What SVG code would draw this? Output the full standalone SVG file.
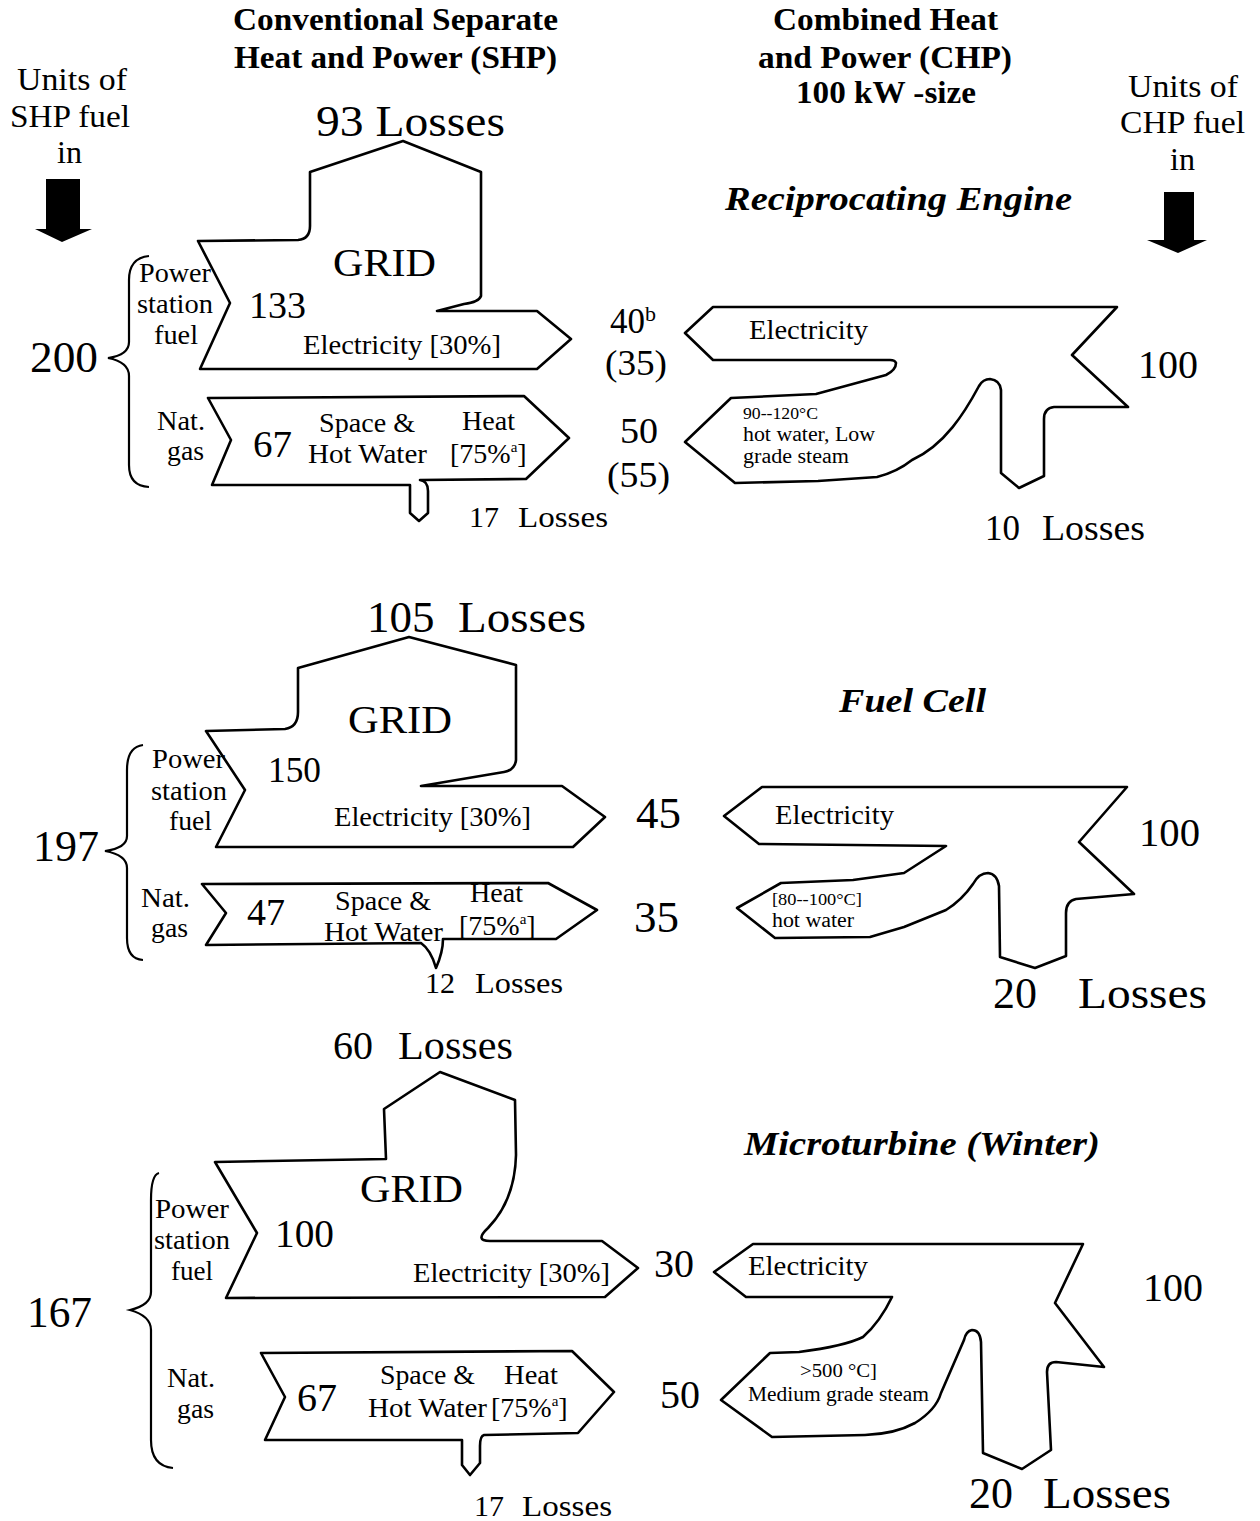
<svg xmlns="http://www.w3.org/2000/svg" width="1260" height="1521" viewBox="0 0 1260 1521">
<style>
.s{fill:#fff;stroke:#000;stroke-width:2.6;stroke-linejoin:round}
.br{fill:none;stroke:#000;stroke-width:2.2}
.ar{fill:#000;stroke:none}
text{font-family:"Liberation Serif","Times New Roman",serif;fill:#000}
.t{font-weight:bold;font-size:31px}
.bi{font-weight:bold;font-style:italic;font-size:34px}
.u{font-size:32px}
.m{font-size:28px}
.sm{font-size:20px}
</style>
<rect width="1260" height="1521" fill="#fff"/>

<g id="headers">
<text class="t" x="233" y="30" textLength="325" lengthAdjust="spacingAndGlyphs">Conventional Separate</text>
<text class="t" x="234" y="68" textLength="323" lengthAdjust="spacingAndGlyphs">Heat and Power (SHP)</text>
<text class="t" x="773" y="30" textLength="225" lengthAdjust="spacingAndGlyphs">Combined Heat</text>
<text class="t" x="758" y="68" textLength="254" lengthAdjust="spacingAndGlyphs">and Power (CHP)</text>
<text class="t" x="796" y="103" textLength="180" lengthAdjust="spacingAndGlyphs">100 kW -size</text>
<text class="u" x="17" y="90" textLength="110" lengthAdjust="spacingAndGlyphs">Units of</text>
<text class="u" x="10" y="127" textLength="120" lengthAdjust="spacingAndGlyphs">SHP fuel</text>
<text class="u" x="57" y="163" textLength="25" lengthAdjust="spacingAndGlyphs">in</text>
<text class="u" x="1128" y="97" textLength="110" lengthAdjust="spacingAndGlyphs">Units of</text>
<text class="u" x="1120" y="133" textLength="125" lengthAdjust="spacingAndGlyphs">CHP fuel</text>
<text class="u" x="1170" y="170" textLength="25" lengthAdjust="spacingAndGlyphs">in</text>
</g>

<g id="connectors">
<path class="ar" d="M46,179 H80 V229 H92 L62,242 L35,229 H46 Z"/>
<path class="ar" d="M1164,192 H1194 V240 H1207 L1178,253 L1147,240 H1164 Z"/>
<path class="br" d="M149,256 Q129,258 129,280 L129,342 Q129,355 108,358 Q129,362 129,376 L129,465 Q129,486 149,487"/>
<path class="br" d="M143,745 Q127,747 127,770 L127,836 Q127,848 105,851 Q127,855 127,868 L127,938 Q127,959 143,960"/>
<path class="br" d="M159,1173 Q151,1175 151,1200 L151,1292 Q151,1305 130,1310 Q151,1316 151,1330 L151,1440 Q151,1466 173,1468"/>
</g>

<!-- Panel 1 -->
<g id="shp1-grid">
<path class="s" d="M198,241 L298,240 Q310,239 310,226 L310,172 L403,141 L481,172 L481,296 Q479,302 464,304 L437,311 L537,311 L571,339 L537,369 L200,369 L230,303 Z"/>
<text x="316" y="136" style="font-size:45px" textLength="189" lengthAdjust="spacingAndGlyphs">93 Losses</text>
<text x="333" y="276" style="font-size:40px" textLength="103" lengthAdjust="spacingAndGlyphs">GRID</text>
<text x="249" y="318" style="font-size:38px" textLength="57" lengthAdjust="spacingAndGlyphs">133</text>
<text class="m" x="303" y="354" textLength="198" lengthAdjust="spacingAndGlyphs">Electricity [30%]</text>
<text class="m" x="139" y="282" textLength="72" lengthAdjust="spacingAndGlyphs">Power</text>
<text class="m" x="137" y="313" textLength="76" lengthAdjust="spacingAndGlyphs">station</text>
<text class="m" x="154" y="344" textLength="44" lengthAdjust="spacingAndGlyphs">fuel</text>
<text x="30" y="372" style="font-size:45px" textLength="68" lengthAdjust="spacingAndGlyphs">200</text>
</g>
<g id="shp1-gas">
<path class="s" d="M208,398 L524,396 L569,438 L526,479 L420,480 Q428,481 428,491 L428,513 L419,521 L410,513 L410,485 L212,485 L231,440 Z"/>
<text class="m" x="157" y="430" textLength="48" lengthAdjust="spacingAndGlyphs">Nat.</text>
<text class="m" x="167" y="460" textLength="37" lengthAdjust="spacingAndGlyphs">gas</text>
<text x="253" y="457" style="font-size:38px" textLength="39" lengthAdjust="spacingAndGlyphs">67</text>
<text class="m" x="319" y="432" textLength="96" lengthAdjust="spacingAndGlyphs">Space &amp;</text>
<text class="m" x="308" y="463" textLength="119" lengthAdjust="spacingAndGlyphs">Hot Water</text>
<text class="m" x="462" y="430" textLength="53" lengthAdjust="spacingAndGlyphs">Heat</text>
<text class="m" x="450" y="463">[75%<tspan style="font-size:15px" dy="-11">a</tspan><tspan dy="11">]</tspan></text>
<text x="469" y="527" style="font-size:30px">17</text>
<text x="518" y="527" style="font-size:30px" textLength="90" lengthAdjust="spacingAndGlyphs">Losses</text>
</g>
<g id="mid1">
<text x="610" y="333" style="font-size:35px">40<tspan style="font-size:22px" dy="-12">b</tspan></text>
<text x="605" y="375" style="font-size:35px" textLength="62" lengthAdjust="spacingAndGlyphs">(35)</text>
<text x="620" y="443" style="font-size:35px" textLength="38" lengthAdjust="spacingAndGlyphs">50</text>
<text x="607" y="487" style="font-size:35px" textLength="63" lengthAdjust="spacingAndGlyphs">(55)</text>
</g>
<g id="chp1">
<text class="bi" x="725" y="210" textLength="347" lengthAdjust="spacingAndGlyphs">Reciprocating Engine</text>
<path class="s" d="M713,307 L1117,307 L1072,355 L1128,407 L1054,407 Q1044,408 1044,419 L1044,476 L1019,488 L1001,473 L1001,390 Q1000,380 990,379 Q983,379 979,386 C965,412 945,445 912,460 Q897,472 877,477 L818,481 L735,483 L685,442 L731,398 L816,394 L886,375 Q896,370 896,363 Q895,360 890,360 L713,360 L685,333 Z"/>
<text class="m" x="749" y="339" textLength="119" lengthAdjust="spacingAndGlyphs">Electricity</text>
<text x="743" y="419" style="font-size:17px" textLength="75" lengthAdjust="spacingAndGlyphs">90--120°C</text>
<text class="sm" x="743" y="441" textLength="132" lengthAdjust="spacingAndGlyphs">hot water, Low</text>
<text class="sm" x="743" y="463" textLength="106" lengthAdjust="spacingAndGlyphs">grade steam</text>
<text x="1138" y="378" style="font-size:40px" textLength="60" lengthAdjust="spacingAndGlyphs">100</text>
<text x="985" y="540" style="font-size:35px">10</text>
<text x="1042" y="540" style="font-size:35px" textLength="103" lengthAdjust="spacingAndGlyphs">Losses</text>
</g>

<!-- Panel 2 -->
<g id="shp2-grid">
<path class="s" d="M206,731 L285,729 Q298,727 298,712 L298,668 L409,637 L516,665 L516,760 Q515,770 504,772 L421,786 L562,786 L605,817 L573,847 L216,847 L245,790 Z"/>
<text x="367" y="632" style="font-size:45px">105</text>
<text x="458" y="632" style="font-size:45px" textLength="128" lengthAdjust="spacingAndGlyphs">Losses</text>
<text x="348" y="733" style="font-size:41px" textLength="104" lengthAdjust="spacingAndGlyphs">GRID</text>
<text x="268" y="782" style="font-size:36px" textLength="53" lengthAdjust="spacingAndGlyphs">150</text>
<text class="m" x="334" y="826" textLength="197" lengthAdjust="spacingAndGlyphs">Electricity [30%]</text>
<text class="m" x="152" y="768" textLength="73" lengthAdjust="spacingAndGlyphs">Power</text>
<text class="m" x="151" y="800" textLength="76" lengthAdjust="spacingAndGlyphs">station</text>
<text class="m" x="169" y="830" textLength="43" lengthAdjust="spacingAndGlyphs">fuel</text>
<text x="33" y="861" style="font-size:44px" textLength="66" lengthAdjust="spacingAndGlyphs">197</text>
</g>
<g id="shp2-gas">
<path class="s" d="M202,884 L548,883 L597,910 L556,939 L443,939 Q443,952 436,968 Q431,950 421,943 L206,945 L226,913 Z"/>
<text class="m" x="141" y="907" textLength="49" lengthAdjust="spacingAndGlyphs">Nat.</text>
<text class="m" x="151" y="937" textLength="37" lengthAdjust="spacingAndGlyphs">gas</text>
<text x="247" y="925" style="font-size:37px" textLength="38" lengthAdjust="spacingAndGlyphs">47</text>
<text class="m" x="335" y="910" textLength="96" lengthAdjust="spacingAndGlyphs">Space &amp;</text>
<text class="m" x="324" y="941" textLength="119" lengthAdjust="spacingAndGlyphs">Hot Water</text>
<text class="m" x="470" y="902" textLength="53" lengthAdjust="spacingAndGlyphs">Heat</text>
<text class="m" x="459" y="935">[75%<tspan style="font-size:15px" dy="-11">a</tspan><tspan dy="11">]</tspan></text>
<text x="425" y="993" style="font-size:30px">12</text>
<text x="475" y="993" style="font-size:30px" textLength="88" lengthAdjust="spacingAndGlyphs">Losses</text>
</g>
<g id="mid2">
<text x="636" y="828" style="font-size:44px" textLength="45" lengthAdjust="spacingAndGlyphs">45</text>
<text x="634" y="932" style="font-size:44px" textLength="45" lengthAdjust="spacingAndGlyphs">35</text>
</g>
<g id="chp2">
<text class="bi" x="839" y="712" textLength="147" lengthAdjust="spacingAndGlyphs">Fuel Cell</text>
<path class="s" d="M762,787 L1127,787 L1079,842 L1134,894 L1076,899 Q1066,901 1066,913 L1066,956 L1035,968 L1000,957 L999,886 Q997,874 988,873 Q979,873 973,884 Q962,900 946,910 L904,927 L870,937 L775,938 L737,908 L781,883 L853,880 L904,873 L946,846 L759,844 L724,816 Z"/>
<text class="m" x="775" y="824" textLength="119" lengthAdjust="spacingAndGlyphs">Electricity</text>
<text x="772" y="905" style="font-size:17px" textLength="90" lengthAdjust="spacingAndGlyphs">[80--100°C]</text>
<text class="sm" x="772" y="927" textLength="82" lengthAdjust="spacingAndGlyphs">hot water</text>
<text x="1139" y="846" style="font-size:41px" textLength="61" lengthAdjust="spacingAndGlyphs">100</text>
<text x="993" y="1008" style="font-size:44px">20</text>
<text x="1078" y="1008" style="font-size:44px" textLength="129" lengthAdjust="spacingAndGlyphs">Losses</text>
</g>

<!-- Panel 3 -->
<g id="shp3-grid">
<path class="s" d="M215,1162 L386,1159 L384,1109 L440,1072 L515,1100 L516,1155 Q515,1200 488,1228 Q474,1241 490,1241 L602,1241 L638,1268 L605,1297 L226,1298 L257,1233 Z"/>
<text x="333" y="1059" style="font-size:40px">60</text>
<text x="398" y="1059" style="font-size:40px" textLength="115" lengthAdjust="spacingAndGlyphs">Losses</text>
<text x="360" y="1202" style="font-size:41px" textLength="103" lengthAdjust="spacingAndGlyphs">GRID</text>
<text x="275" y="1247" style="font-size:40px" textLength="59" lengthAdjust="spacingAndGlyphs">100</text>
<text class="m" x="413" y="1282" textLength="197" lengthAdjust="spacingAndGlyphs">Electricity [30%]</text>
<text class="m" x="155" y="1218" textLength="74" lengthAdjust="spacingAndGlyphs">Power</text>
<text class="m" x="154" y="1249" textLength="76" lengthAdjust="spacingAndGlyphs">station</text>
<text class="m" x="171" y="1280" textLength="42" lengthAdjust="spacingAndGlyphs">fuel</text>
<text x="27" y="1327" style="font-size:44px" textLength="65" lengthAdjust="spacingAndGlyphs">167</text>
</g>
<g id="shp3-gas">
<path class="s" d="M261,1353 L572,1351 L614,1392 L578,1433 L484,1435 Q480,1436 480,1446 L480,1463 L470,1475 L462,1465 L462,1440 L265,1440 L285,1397 Z"/>
<text class="m" x="167" y="1387" textLength="48" lengthAdjust="spacingAndGlyphs">Nat.</text>
<text class="m" x="177" y="1418" textLength="37" lengthAdjust="spacingAndGlyphs">gas</text>
<text x="297" y="1411" style="font-size:40px" textLength="40" lengthAdjust="spacingAndGlyphs">67</text>
<text class="m" x="380" y="1384" textLength="95" lengthAdjust="spacingAndGlyphs">Space &amp;</text>
<text class="m" x="368" y="1417" textLength="119" lengthAdjust="spacingAndGlyphs">Hot Water</text>
<text class="m" x="504" y="1384" textLength="54" lengthAdjust="spacingAndGlyphs">Heat</text>
<text class="m" x="491" y="1417">[75%<tspan style="font-size:15px" dy="-11">a</tspan><tspan dy="11">]</tspan></text>
<text x="474" y="1516" style="font-size:30px">17</text>
<text x="522" y="1516" style="font-size:30px" textLength="90" lengthAdjust="spacingAndGlyphs">Losses</text>
</g>
<g id="mid3">
<text x="654" y="1277" style="font-size:40px" textLength="40" lengthAdjust="spacingAndGlyphs">30</text>
<text x="660" y="1408" style="font-size:40px" textLength="40" lengthAdjust="spacingAndGlyphs">50</text>
</g>
<g id="chp3">
<text class="bi" x="744" y="1155" textLength="356" lengthAdjust="spacingAndGlyphs">Microturbine (Winter)</text>
<path class="s" d="M753,1244 L1083,1244 L1055,1303 L1104,1367 L1056,1362 Q1047,1362 1047,1372 L1051,1450 L1022,1469 L983,1453 L981,1342 Q980,1330 972,1330 Q966,1331 964,1340 L941,1393 Q936,1410 915,1423 Q895,1434 865,1435 L772,1437 L721,1400 L770,1353 L799,1352 Q845,1346 863,1337 Q880,1322 892,1297 L746,1297 L714,1272 Z"/>
<text class="m" x="748" y="1275" textLength="120" lengthAdjust="spacingAndGlyphs">Electricity</text>
<text x="800" y="1377" style="font-size:19px" textLength="77" lengthAdjust="spacingAndGlyphs">&gt;500 °C]</text>
<text class="sm" x="748" y="1401" textLength="181" lengthAdjust="spacingAndGlyphs">Medium grade steam</text>
<text x="1143" y="1301" style="font-size:40px" textLength="60" lengthAdjust="spacingAndGlyphs">100</text>
<text x="969" y="1508" style="font-size:44px">20</text>
<text x="1043" y="1508" style="font-size:44px" textLength="128" lengthAdjust="spacingAndGlyphs">Losses</text>
</g>
</svg>
